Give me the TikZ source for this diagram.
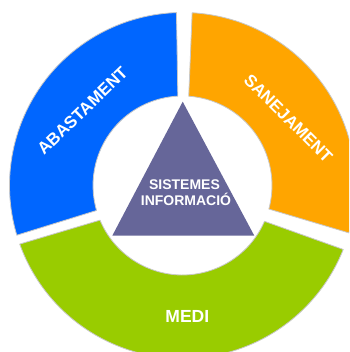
\documentclass[tikz,border=0pt]{standalone}
\usepackage{fontspec}
\setmainfont{Liberation Sans}
\definecolor{segblue}{RGB}{0,102,255}
\definecolor{segorange}{RGB}{255,165,0}
\definecolor{seggreen}{RGB}{153,204,0}
\definecolor{trifill}{RGB}{102,102,153}
\definecolor{rim}{RGB}{200,200,200}
\begin{document}
\begin{tikzpicture}[x=1pt,y=1pt,
  segment/.style={draw=rim,line width=0.8pt,line join=round},
  lbl/.style={text=white,font=\bfseries\fontsize{17}{19}\selectfont,inner sep=0pt},
  tlbl/.style={text=white,font=\bfseries\fontsize{14}{16}\selectfont,inner sep=0pt,anchor=base}]
\useasboundingbox (0,0) rectangle (349,352);
\clip (0,0) rectangle (349,352);
\fill[white] (0,0) rectangle (349,352);
\coordinate (O) at (182.5,166.5);
\begin{scope}[shift={(O)}]
  % blue segment
  \path[segment,fill=segblue] (92:173) arc[start angle=92,end angle=196.7,radius=173]
    -- (196.2:89.5) arc[start angle=196.2,end angle=93,radius=89.5] -- cycle;
  % orange segment
  \path[segment,fill=segorange] (-15.9:173) arc[start angle=-15.9,end angle=86.8,radius=173]
    -- (86:89.5) arc[start angle=86,end angle=-15.25,radius=89.5] -- cycle;
  % green segment
  \path[segment,fill=seggreen] (199.8:173) arc[start angle=199.8,end angle=338.3,radius=173]
    -- (336.4:89.5) arc[start angle=336.4,end angle=202.8,radius=89.5] -- cycle;
\end{scope}
% triangle
\coordinate (ta) at (182.7,250.3);
\coordinate (tl) at (112.3,116.3);
\coordinate (tr) at (254.3,116.3);
\fill[trifill] (ta) -- (tl) -- (tr) -- cycle;
% labels
\node[lbl,rotate=44] (abast) at (82.5,241.2) {ABASTAMENT};
\node[lbl,rotate=-45] (sanej) at (288.3,233.7) {SANEJAMENT};
\node[lbl,font=\bfseries\fontsize{17.5}{19}\selectfont,anchor=base] (medi) at (187.3,29.7) {MEDI};
\node[tlbl] (sist) at (184.5,162.7) {SISTEMES};
\node[tlbl] (info) at (186,146.3) {INFORMACIÓ};
\end{tikzpicture}
\end{document}
